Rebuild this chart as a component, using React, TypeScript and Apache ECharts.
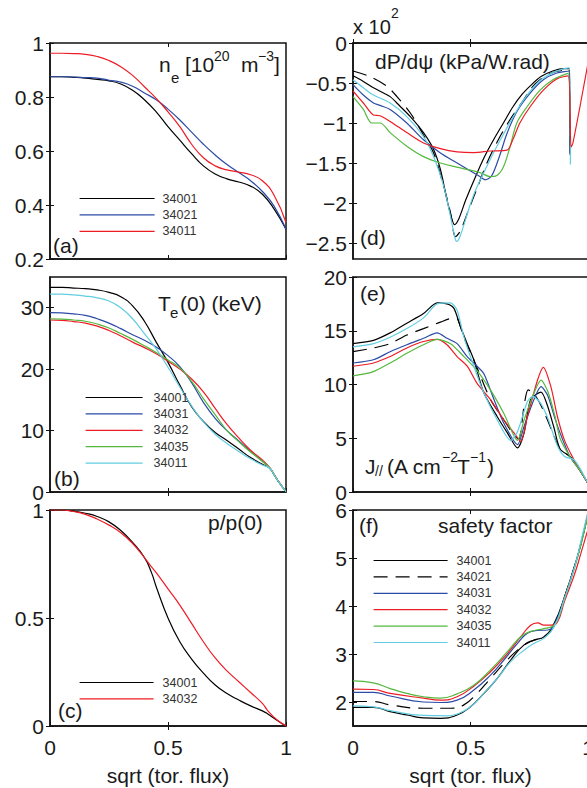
import React, { useEffect, useRef } from 'react';
import * as echarts from 'echarts';

// ---------- data ----------
const xTicks = [0, 0.5, 1];
const neTicks = [0.2, 0.4, 0.6, 0.8, 1];
const teTicks = [0, 10, 20, 30];
const pTicks = [0, 0.5, 1];
const dpTicks = [0, -0.5, -1, -1.5, -2, -2.5];
const jTicks = [0, 5, 10, 15, 20];
const qTicks = [2, 3, 4, 5, 6];

// (a) electron density
const xNe = [0, 0.05, 0.1, 0.15, 0.2, 0.25, 0.3, 0.35, 0.4, 0.45, 0.5, 0.55, 0.6, 0.65, 0.7, 0.75, 0.8, 0.85, 0.9, 0.95, 1];
const ne34001 = [0.875, 0.875, 0.873, 0.87, 0.865, 0.86, 0.848, 0.825, 0.79, 0.745, 0.69, 0.64, 0.59, 0.545, 0.515, 0.497, 0.485, 0.47, 0.44, 0.385, 0.31];
const ne34021 = [0.875, 0.875, 0.874, 0.872, 0.87, 0.862, 0.855, 0.84, 0.815, 0.79, 0.755, 0.715, 0.67, 0.625, 0.585, 0.55, 0.52, 0.49, 0.45, 0.395, 0.31];
const ne34011 = [0.962, 0.962, 0.961, 0.958, 0.95, 0.935, 0.912, 0.88, 0.838, 0.795, 0.745, 0.69, 0.625, 0.575, 0.545, 0.53, 0.522, 0.512, 0.49, 0.435, 0.335];

// (b) electron temperature
const xTe = [0, 0.05, 0.1, 0.15, 0.2, 0.25, 0.3, 0.35, 0.4, 0.45, 0.5, 0.55, 0.6, 0.65, 0.7, 0.75, 0.8, 0.85, 0.9, 0.93, 0.95, 0.97, 1];
const te34001 = [33.3, 33.3, 33.2, 33.1, 32.9, 32.5, 31.8, 30.3, 27.8, 24.4, 21.1, 17.4, 13.9, 11.5, 9.7, 8.4, 7.0, 5.6, 4.5, 3.9, 2.8, 1.6, 0.05];
const te34031 = [29.2, 29.15, 29.0, 28.75, 28.2, 27.5, 26.6, 25.6, 24.7, 23.6, 22.2, 20.4, 17.8, 14.6, 12.0, 10.0, 8.3, 6.6, 5.0, 3.95, 2.8, 1.6, 0.05];
const te34032 = [28.0, 27.95, 27.75, 27.5, 27.0, 26.3, 25.4, 24.4, 23.5, 22.5, 21.3, 20.0, 18.4, 16.3, 13.6, 11.0, 8.8, 6.8, 5.2, 4.0, 2.85, 1.6, 0.05];
const te34035 = [28.2, 28.15, 28.0, 27.8, 27.35, 26.7, 25.8, 24.85, 23.8, 22.7, 21.5, 20.2, 18.0, 15.2, 12.6, 10.0, 8.2, 6.5, 5.0, 3.95, 2.8, 1.6, 0.05];
const te34011 = [32.2, 32.2, 32.1, 31.9, 31.6, 31.1, 30.0, 28.2, 25.8, 23.3, 20.3, 17.1, 14.0, 11.4, 9.4, 7.9, 6.6, 5.4, 4.4, 3.9, 2.8, 1.6, 0.05];

// (c) normalised pressure
const xP = [0, 0.05, 0.1, 0.15, 0.2, 0.25, 0.3, 0.35, 0.4, 0.43, 0.45, 0.5, 0.55, 0.6, 0.65, 0.7, 0.75, 0.8, 0.85, 0.9, 0.92, 0.96, 1];
const p34001 = [1, 1, 0.995, 0.985, 0.97, 0.945, 0.905, 0.85, 0.78, 0.71, 0.645, 0.5, 0.39, 0.31, 0.245, 0.19, 0.15, 0.12, 0.093, 0.07, 0.058, 0.028, 0];
const p34032 = [1, 1, 0.993, 0.98, 0.958, 0.93, 0.895, 0.845, 0.78, 0.737, 0.71, 0.635, 0.56, 0.475, 0.39, 0.315, 0.255, 0.205, 0.155, 0.105, 0.075, 0.03, 0];

// (d) dP/dpsi  (x 10^2)
const dp34001 = [[0, -0.41], [0.044, -0.48], [0.087, -0.56], [0.13, -0.625], [0.158, -0.67], [0.2, -0.79], [0.244, -0.92], [0.3, -1.12], [0.343, -1.33], [0.372, -1.58], [0.4, -1.96], [0.422, -2.21], [0.432, -2.27], [0.45, -2.2], [0.48, -1.96], [0.52, -1.68], [0.56, -1.42], [0.6, -1.2], [0.64, -1.0], [0.68, -0.8], [0.72, -0.64], [0.76, -0.52], [0.8, -0.42], [0.85, -0.35], [0.9, -0.32], [0.92, -0.32], [0.923, -1.38]];
const dp34021 = [[0, -0.35], [0.072, -0.42], [0.144, -0.54], [0.187, -0.67], [0.244, -0.875], [0.3, -1.15], [0.343, -1.375], [0.386, -1.79], [0.415, -2.125], [0.436, -2.42], [0.457, -2.35], [0.49, -2.1], [0.53, -1.8], [0.57, -1.5], [0.62, -1.2], [0.67, -0.95], [0.72, -0.74], [0.76, -0.56], [0.8, -0.45], [0.85, -0.37], [0.92, -0.33], [0.923, -1.3]];
const dp34031 = [[0, -0.52], [0.044, -0.65], [0.087, -0.75], [0.115, -0.78], [0.158, -0.83], [0.229, -1.0], [0.3, -1.21], [0.372, -1.375], [0.443, -1.5], [0.5, -1.6], [0.54, -1.67], [0.562, -1.71], [0.59, -1.66], [0.625, -1.4], [0.654, -1.14], [0.697, -0.86], [0.753, -0.63], [0.81, -0.46], [0.867, -0.375], [0.92, -0.35], [0.924, -1.4]];
const dp34032 = [[0, -0.6], [0.044, -0.75], [0.087, -0.9], [0.115, -0.91], [0.158, -0.98], [0.229, -1.12], [0.3, -1.25], [0.372, -1.32], [0.443, -1.36], [0.514, -1.37], [0.585, -1.35], [0.655, -1.34], [0.68, -1.21], [0.71, -1.0], [0.753, -0.8], [0.81, -0.59], [0.867, -0.45], [0.915, -0.41], [0.928, -1.3], [0.936, -1.25], [1, -0.25]];
const dp34035 = [[0, -0.67], [0.044, -0.83], [0.08, -1.0], [0.115, -1.0], [0.158, -1.12], [0.229, -1.29], [0.3, -1.42], [0.372, -1.5], [0.468, -1.57], [0.54, -1.62], [0.583, -1.67], [0.61, -1.66], [0.64, -1.55], [0.668, -1.3], [0.697, -1.0], [0.74, -0.8], [0.796, -0.59], [0.851, -0.46], [0.915, -0.38], [0.925, -1.3]];
const dp34011 = [[0, -0.46], [0.044, -0.56], [0.087, -0.65], [0.158, -0.75], [0.229, -0.92], [0.3, -1.17], [0.343, -1.42], [0.386, -1.79], [0.415, -2.17], [0.436, -2.46], [0.443, -2.48], [0.46, -2.38], [0.49, -2.1], [0.52, -1.85], [0.56, -1.6], [0.6, -1.36], [0.64, -1.14], [0.68, -0.93], [0.72, -0.74], [0.76, -0.58], [0.8, -0.46], [0.85, -0.37], [0.9, -0.32], [0.921, -0.31], [0.925, -1.52]];

// (e) J parallel
const j34001 = [[0, 13.8], [0.087, 14.1], [0.158, 14.8], [0.229, 15.7], [0.3, 16.6], [0.358, 17.6], [0.4, 17.5], [0.429, 17.1], [0.457, 15.4], [0.486, 13.8], [0.514, 12.3], [0.557, 9.2], [0.614, 7.0], [0.657, 5.5], [0.7, 4.1], [0.728, 5.5], [0.756, 8.6], [0.8, 9.3], [0.828, 8.0], [0.855, 6.0], [0.881, 4.0], [0.923, 3.3], [0.966, 2.0], [1, 0.8]];
const j34021 = [[0, 13.05], [0.087, 13.4], [0.158, 13.8], [0.229, 14.6], [0.3, 15.2], [0.372, 15.8], [0.43, 16.2], [0.445, 16.1], [0.472, 14.4], [0.514, 12.3], [0.585, 8.6], [0.642, 6.7], [0.685, 5.3], [0.705, 4.9], [0.728, 8.0], [0.745, 9.5], [0.775, 9.0], [0.81, 7.6], [0.85, 5.5], [0.881, 4.0], [0.923, 3.3], [0.966, 2.0], [1, 0.8]];
const j34031 = [[0, 12.0], [0.087, 12.3], [0.158, 13.05], [0.229, 13.7], [0.3, 14.3], [0.358, 14.8], [0.4, 14.3], [0.443, 13.8], [0.486, 12.6], [0.528, 11.7], [0.557, 11.0], [0.6, 8.6], [0.642, 6.4], [0.7, 4.4], [0.728, 6.1], [0.77, 8.6], [0.8, 9.8], [0.828, 9.0], [0.86, 6.8], [0.881, 5.5], [0.923, 3.3], [0.966, 2.0], [1, 0.8]];
const j34032 = [[0, 11.7], [0.087, 12.0], [0.158, 12.6], [0.229, 13.4], [0.3, 14.0], [0.358, 14.2], [0.4, 13.7], [0.443, 12.6], [0.486, 11.7], [0.528, 10.1], [0.585, 8.6], [0.642, 6.7], [0.685, 5.5], [0.714, 4.7], [0.742, 7.0], [0.785, 10.4], [0.81, 11.6], [0.842, 9.8], [0.87, 7.0], [0.9, 4.8], [0.94, 3.0], [0.966, 2.0], [1, 0.8]];
const j34035 = [[0, 10.8], [0.087, 11.2], [0.158, 12.0], [0.229, 12.9], [0.3, 13.7], [0.358, 14.2], [0.415, 13.8], [0.472, 12.6], [0.528, 11.3], [0.585, 9.5], [0.642, 7.3], [0.7, 4.8], [0.728, 6.7], [0.77, 9.2], [0.8, 10.4], [0.83, 9.3], [0.86, 7.0], [0.881, 5.0], [0.923, 3.3], [0.966, 2.0], [1, 0.8]];
const j34011 = [[0, 13.5], [0.087, 13.8], [0.158, 14.4], [0.229, 15.2], [0.3, 16.2], [0.358, 17.5], [0.415, 17.6], [0.443, 16.9], [0.472, 14.4], [0.514, 11.7], [0.557, 9.2], [0.614, 6.7], [0.671, 4.8], [0.7, 5.6], [0.742, 8.4], [0.765, 8.9], [0.8, 8.2], [0.83, 6.8], [0.87, 4.3], [0.9, 3.3], [0.94, 3.0], [0.966, 2.2], [1, 0.8]];

// (f) safety factor
const q34001 = [[0, 1.89], [0.087, 1.89], [0.158, 1.8], [0.229, 1.73], [0.3, 1.67], [0.372, 1.66], [0.443, 1.73], [0.5, 1.9], [0.557, 2.18], [0.614, 2.49], [0.671, 2.875], [0.728, 3.19], [0.77, 3.29], [0.813, 3.36], [0.856, 3.64], [0.9, 4.19], [0.942, 4.82], [0.97, 5.3], [1, 5.93]];
const q34021 = [[0, 2.01], [0.087, 2.01], [0.158, 1.94], [0.3, 1.87], [0.415, 1.87], [0.472, 1.94], [0.528, 2.18], [0.585, 2.49], [0.642, 2.8], [0.7, 3.08], [0.756, 3.26], [0.813, 3.36], [0.856, 3.6], [0.9, 4.19], [0.942, 4.82], [0.97, 5.3], [1, 5.93]];
const q34031 = [[0, 2.2], [0.087, 2.2], [0.158, 2.125], [0.3, 2.0], [0.372, 1.99], [0.443, 2.04], [0.514, 2.25], [0.585, 2.56], [0.642, 2.875], [0.7, 3.22], [0.742, 3.43], [0.785, 3.49], [0.828, 3.5], [0.856, 3.6], [0.9, 4.17], [0.942, 4.8], [0.97, 5.3], [1, 5.92]];
const q34032 = [[0, 2.27], [0.087, 2.26], [0.158, 2.18], [0.3, 2.08], [0.372, 2.04], [0.443, 2.11], [0.514, 2.33], [0.585, 2.63], [0.657, 3.01], [0.714, 3.36], [0.756, 3.6], [0.785, 3.65], [0.813, 3.6], [0.842, 3.6], [0.87, 3.67], [0.9, 4.1], [0.942, 4.65], [0.97, 5.1], [1, 5.6]];
const q34035 = [[0, 2.44], [0.087, 2.4], [0.158, 2.28], [0.229, 2.18], [0.3, 2.11], [0.372, 2.08], [0.443, 2.17], [0.514, 2.35], [0.585, 2.67], [0.657, 3.05], [0.714, 3.36], [0.756, 3.47], [0.813, 3.53], [0.856, 3.6], [0.9, 4.16], [0.942, 4.78], [0.97, 5.27], [1, 5.9]];
const q34011 = [[0, 1.92], [0.087, 1.9], [0.158, 1.82], [0.3, 1.72], [0.4, 1.71], [0.443, 1.75], [0.5, 1.9], [0.557, 2.18], [0.614, 2.49], [0.671, 2.84], [0.728, 3.08], [0.77, 3.22], [0.813, 3.33], [0.856, 3.57], [0.9, 4.15], [0.942, 4.8], [0.97, 5.35], [1, 5.98]];

// ---------- styling ----------
const FONT = '"Liberation Sans", Arial, Helvetica, sans-serif';
const TXT = '#1a1a1a';
const BLACK = '#000000';
const BLUE = '#2b4ba6';
const RED = '#ee1c25';
const GREEN = '#55b83e';
const CYAN = '#62cde2';

const zip = (xs: number[], ys: number[]) => xs.map((x, i) => [x, ys[i]]);

const grids = [
  { left: 50, top: 43, width: 236, height: 216 },
  { left: 50, top: 277, width: 236, height: 215 },
  { left: 50, top: 510, width: 236, height: 216 },
  { left: 353, top: 43, width: 235, height: 216 },
  { left: 353, top: 277, width: 235, height: 215 },
  { left: 353, top: 510, width: 235, height: 216 },
];

const yCfg = [
  { min: 0.2, max: 1, ticks: neTicks },
  { min: 0, max: 35, ticks: teTicks },
  { min: 0, max: 1, ticks: pTicks },
  { min: -2.7, max: 0, ticks: dpTicks },
  { min: 0, max: 20, ticks: jTicks },
  { min: 1.5, max: 6, ticks: qTicks },
];

const fmt = (v: number) => (v < 0 ? '\u2212' + String(+(-v).toFixed(2)) : String(+v.toFixed(2)));

function line(panel: string, name: string, data: number[][], color: string, gi: number, opts: any = {}) {
  return {
    type: 'line',
    name: panel + '|' + name,
    data,
    xAxisIndex: gi,
    yAxisIndex: gi,
    symbol: 'none',
    showSymbol: false,
    smooth: opts.smooth ?? 0.5,
    silent: true,
    emphasis: { disabled: true },
    lineStyle: { color, width: 1.2, type: opts.dash ? [14, 8] : 'solid' },
    itemStyle: { color },
  };
}

function legend(names: string[], left: number, top: number, itemWidth: number, pad: number) {
  return {
    orient: 'vertical',
    left,
    top,
    padding: 0,
    itemWidth,
    itemHeight: 14,
    itemGap: 3.4,
    selectedMode: false,
    data: names,
    formatter: (n: string) => n.split('|')[1],
    itemStyle: { opacity: 0 },
    lineStyle: { width: 1.2 },
    textStyle: { fontFamily: FONT, fontSize: 12.5, color: '#333', padding: [0, 0, 0, pad] },
  };
}

function t(text: string, x: number, y: number, size = 21) {
  return {
    type: 'text',
    x,
    y,
    silent: true,
    style: { text, fill: TXT, fontFamily: FONT, fontSize: size, align: 'left', verticalAlign: 'middle' },
  };
}

export default function App() {
  const ref = useRef<HTMLDivElement>(null);
  useEffect(() => {
    if (!ref.current) return;
    const chart = echarts.init(ref.current, undefined, { renderer: 'svg' });

    const xAxes: any[] = [];
    const yAxes: any[] = [];
    grids.forEach((_, i) => {
      const bottomRow = i === 2 || i === 5;
      xAxes.push({
        gridIndex: i, type: 'value', min: 0, max: 1, position: 'bottom',
        axisLine: { show: true, lineStyle: { color: '#111', width: 1.5 } },
        axisTick: { show: true, inside: true, length: 4, customValues: xTicks, lineStyle: { color: '#111', width: 1 } },
        axisLabel: { show: bottomRow, customValues: xTicks, margin: 11, fontSize: 21, fontFamily: FONT, color: TXT, formatter: fmt },
        splitLine: { show: false },
        name: bottomRow ? 'sqrt (tor. flux)' : '',
        nameLocation: 'middle', nameGap: 39,
        nameTextStyle: { fontSize: 21, fontFamily: FONT, color: TXT },
      });
    });
    grids.forEach((_, i) => {
      xAxes.push({
        gridIndex: i, type: 'value', min: 0, max: 1, position: 'top',
        axisLine: { show: false },
        axisTick: { show: true, inside: true, length: 4, customValues: [0.5], lineStyle: { color: '#111', width: 1 } },
        axisLabel: { show: false, customValues: [0.5] },
        splitLine: { show: false },
      });
    });
    grids.forEach((_, i) => {
      const c = yCfg[i];
      yAxes.push({
        gridIndex: i, type: 'value', min: c.min, max: c.max, position: 'left',
        axisLine: { show: true, lineStyle: { color: '#111', width: 1.5 } },
        axisTick: { show: true, inside: true, length: 4, customValues: c.ticks, lineStyle: { color: '#111', width: 1 } },
        axisLabel: { show: true, customValues: c.ticks, margin: 6, fontSize: 21, fontFamily: FONT, color: TXT, formatter: fmt },
        splitLine: { show: false },
      });
    });
    grids.forEach((_, i) => {
      const c = yCfg[i];
      yAxes.push({
        gridIndex: i, type: 'value', min: c.min, max: c.max, position: 'right',
        axisLine: { show: false },
        axisTick: { show: true, inside: true, length: 4, customValues: c.ticks, lineStyle: { color: '#111', width: 1 } },
        axisLabel: { show: false, customValues: c.ticks },
        splitLine: { show: false },
      });
    });

    const series = [
      line('a', '34001', zip(xNe, ne34001), BLACK, 0),
      line('a', '34021', zip(xNe, ne34021), BLUE, 0),
      line('a', '34011', zip(xNe, ne34011), RED, 0),

      line('b', '34001', zip(xTe, te34001), BLACK, 1),
      line('b', '34031', zip(xTe, te34031), BLUE, 1),
      line('b', '34032', zip(xTe, te34032), RED, 1),
      line('b', '34035', zip(xTe, te34035), GREEN, 1),
      line('b', '34011', zip(xTe, te34011), CYAN, 1),

      line('c', '34001', zip(xP, p34001), BLACK, 2),
      line('c', '34032', zip(xP, p34032), RED, 2),

      line('d', '34001', dp34001, BLACK, 3, { smooth: 0.3 }),
      line('d', '34021', dp34021, BLACK, 3, { smooth: 0.3, dash: true }),
      line('d', '34031', dp34031, BLUE, 3, { smooth: 0.3 }),
      line('d', '34035', dp34035, GREEN, 3, { smooth: 0.3 }),
      line('d', '34011', dp34011, CYAN, 3, { smooth: 0.3 }),
      line('d', '34032', dp34032, RED, 3, { smooth: 0.3 }),

      line('e', '34001', j34001, BLACK, 4, { smooth: 0.25 }),
      line('e', '34021', j34021, BLACK, 4, { smooth: 0.25, dash: true }),
      line('e', '34031', j34031, BLUE, 4, { smooth: 0.25 }),
      line('e', '34032', j34032, RED, 4, { smooth: 0.25 }),
      line('e', '34035', j34035, GREEN, 4, { smooth: 0.25 }),
      line('e', '34011', j34011, CYAN, 4, { smooth: 0.25 }),

      line('f', '34001', q34001, BLACK, 5),
      line('f', '34021', q34021, BLACK, 5, { dash: true }),
      line('f', '34031', q34031, BLUE, 5),
      line('f', '34032', q34032, RED, 5),
      line('f', '34035', q34035, GREEN, 5),
      line('f', '34011', q34011, CYAN, 5),
    ];

    const graphic = [
      // (a) title n_e [10^20 m^-3]
      t('n', 159, 64.5), t('e', 171, 77, 15), t('[10', 185, 64.5), t('20', 214, 56, 14),
      t('m', 241, 64.5), t('\u22123', 258, 56, 14), t(']', 274, 64.5),
      // (b) T_e(0) (keV)
      t('T', 158, 303), t('e', 170, 312, 15), t('(0) (keV)', 180, 303),
      // (c)
      t('p/p(0)', 208, 522),
      // (d)
      t('dP/d\u03c8 (kPa/W.rad)', 375, 61),
      t('x 10', 353, 27, 20), t('2', 391, 13, 14),
      // (e) J// (A cm^-2 T^-1)
      t('J', 365, 466), t('//', 375, 471, 14), t('(A cm', 387, 466), t('\u22122', 442, 457, 14),
      t('T', 457, 466), t('\u22121', 470, 457, 14), t(')', 487, 466),
      // (f)
      t('safety factor', 438, 525),
      // panel letters
      t('(a)', 53, 245), t('(b)', 54, 478), t('(c)', 58, 710),
      t('(d)', 360, 237), t('(e)', 360, 293), t('(f)', 359, 525),
    ];

    chart.setOption({
      animation: false,
      backgroundColor: '#ffffff',
      grid: grids.map((g) => ({ ...g, show: true, borderColor: '#111', borderWidth: 1.5, backgroundColor: 'transparent', containLabel: false })),
      xAxis: xAxes,
      yAxis: yAxes,
      legend: [
        legend(['a|34001', 'a|34021', 'a|34011'], 79, 192, 75, 3),
        legend(['b|34001', 'b|34031', 'b|34032', 'b|34035', 'b|34011'], 85, 391, 57, 6),
        legend(['c|34001', 'c|34032'], 79, 676, 74, 4),
        legend(['f|34001', 'f|34021', 'f|34031', 'f|34032', 'f|34035', 'f|34011'], 373, 554, 74, 4),
      ],
      series,
      graphic,
    });
    return () => chart.dispose();
  }, []);

  return (
    <div style={{ position: 'absolute', left: 0, top: 0, width: 587, height: 788, overflow: 'hidden', background: '#fff' }}>
      <div ref={ref} style={{ width: 600, height: 788 }} />
    </div>
  );
}
